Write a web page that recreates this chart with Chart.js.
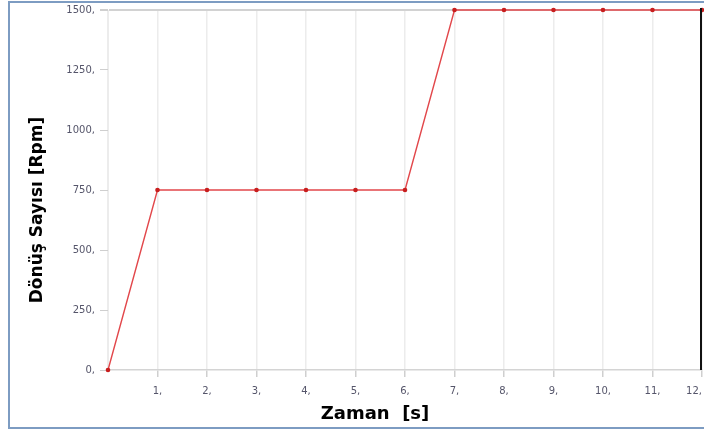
<!DOCTYPE html>
<html>
<head>
<meta charset="utf-8">
<script src="https://cdn.jsdelivr.net/npm/chart.js@4"></script>
<style>
  html, body { margin: 0; padding: 0; background: #fff; }
  #wrap { position: relative; width: 704px; height: 432px; overflow: hidden; }
  #frame {
    position: absolute; left: 8px; top: 1px; width: 720px; height: 428px;
    border: 2px solid #7d9cc2; box-sizing: border-box;
  }
  #c { position: absolute; left: 0; top: 0; }
</style>
</head>
<body>
<div id="wrap">
  <div id="frame"></div>
  <canvas id="c" width="704" height="432"></canvas>
</div>
<script>
const zaman = [0, 1, 2, 3, 4, 5, 6, 7, 8, 9, 10, 11, 12];
const devir = [0, 750, 750, 750, 750, 750, 750, 1500, 1500, 1500, 1500, 1500, 1500];
const yTicks = [0, 250, 500, 750, 1000, 1250, 1500];

const yTitle = 'Dönüş Sayısı [Rpm]';
const xTitle = 'Zaman  [s]';

// axis titles and the dark right edge
const extras = {
  id: 'extras',
  afterDraw(chart) {
    const { ctx, chartArea } = chart;
    ctx.save();
    ctx.strokeStyle = '#111';
    ctx.lineWidth = 2;
    ctx.beginPath();
    ctx.moveTo(chartArea.right - 1, chartArea.top - 2);
    ctx.lineTo(chartArea.right - 1, chartArea.bottom);
    ctx.stroke();

    ctx.fillStyle = '#000';
    ctx.textAlign = 'center';
    ctx.textBaseline = 'middle';
    ctx.font = 'bold 18px "DejaVu Sans"';
    ctx.fillText(xTitle, 375, 414);

    ctx.translate(38, 210);
    ctx.rotate(-Math.PI / 2);
    ctx.font = 'bold 17px "DejaVu Sans"';
    ctx.fillText(yTitle, 0, 0);
    ctx.restore();
  }
};

new Chart(document.getElementById('c'), {
  type: 'line',
  data: {
    datasets: [{
      data: zaman.map((x, i) => ({ x: x, y: devir[i] })),
      borderColor: '#e2474b',
      borderWidth: 1.4,
      pointRadius: 2.3,
      pointBackgroundColor: '#c81e1e',
      pointBorderWidth: 0,
      tension: 0,
      clip: false
    }]
  },
  options: {
    responsive: false,
    animation: false,
    layout: { autoPadding: false, padding: { top: 10, right: 2, left: 0, bottom: 0 } },
    plugins: { legend: { display: false }, tooltip: { enabled: false } },
    scales: {
      x: {
        type: 'linear',
        min: 0,
        max: 12,
        afterFit(scale) {
          scale.height = 62;
          scale.paddingLeft = 0;
          scale.paddingRight = 0;
        },
        border: { color: '#d4d4d4', width: 1.5 },
        grid: {
          color: '#ececec',
          lineWidth: 1.5,
          tickColor: c => (c.tick && c.tick.value === 0 ? 'rgba(0,0,0,0)' : '#cfcfcf'),
          tickLength: 7
        },
        ticks: {
          stepSize: 1,
          align: 'inner',
          padding: 8,
          color: '#55556a',
          font: { family: 'DejaVu Sans', size: 10 },
          callback: v => (v === 0 ? '' : v + ',')
        }
      },
      y: {
        min: 0,
        max: 1500,
        afterFit(scale) {
          scale.width = 108;
          scale.paddingTop = 0;
          scale.paddingBottom = 0;
        },
        afterBuildTicks(scale) { scale.ticks = yTicks.map(v => ({ value: v })); },
        border: { color: '#ececec', width: 1 },
        grid: {
          color: c => (c.tick && c.tick.value === 1500 ? '#d2d2d2' : 'rgba(0,0,0,0)'),
          lineWidth: c => (c.tick && c.tick.value === 1500 ? 2 : 1),
          tickColor: '#cfcfcf',
          tickLength: 8
        },
        ticks: {
          padding: 5,
          color: '#55556a',
          font: { family: 'DejaVu Sans', size: 10 },
          callback: v => v + ','
        }
      }
    }
  },
  plugins: [extras]
});
</script>
</body>
</html>
